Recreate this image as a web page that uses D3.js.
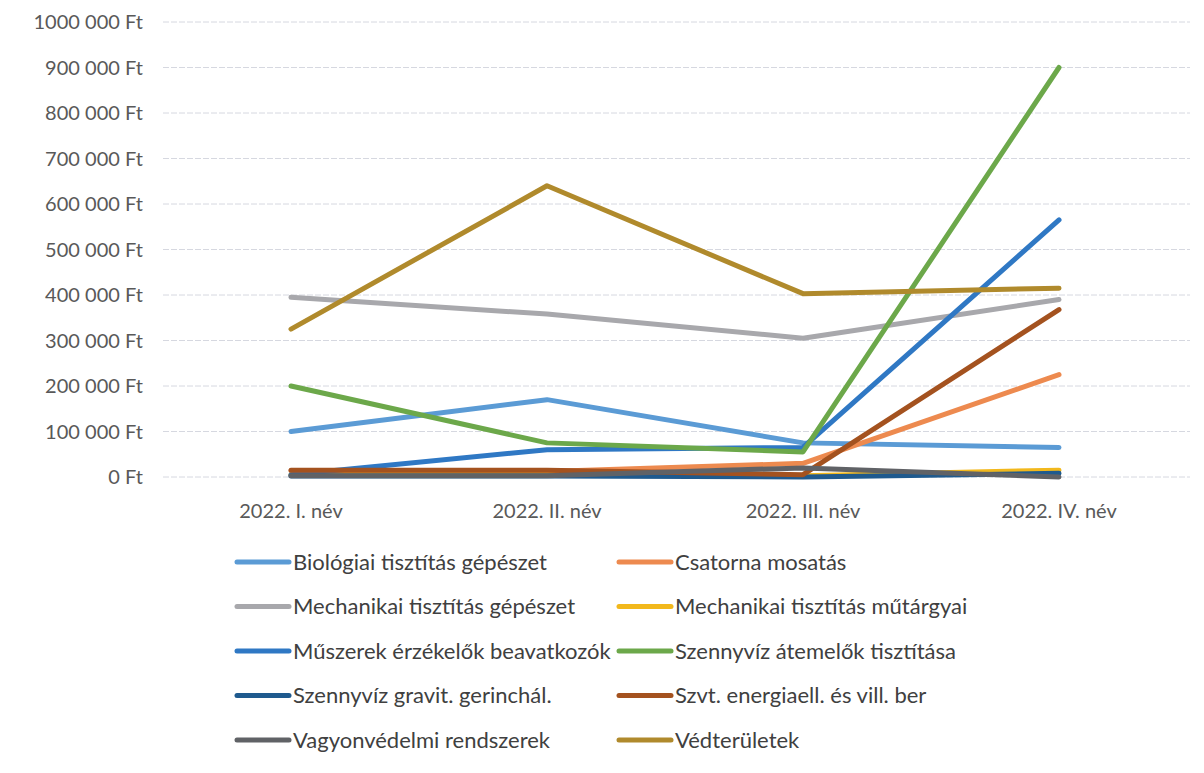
<!DOCTYPE html>
<html>
<head>
<meta charset="utf-8">
<script src="https://cdn.jsdelivr.net/npm/d3@7"></script>
<style>
  body { margin: 0; background: #fff; }
  text { font-family: Lato, "Open Sans", sans-serif; }
</style>
</head>
<body>
<svg id="chart" width="1204" height="773"></svg>
<script>
// periods on the x axis
let periods = ["2022. I. név", "2022. II. név", "2022. III. név", "2022. IV. név"];
let yTicks = [0, 100000, 200000, 300000, 400000, 500000, 600000, 700000, 800000, 900000, 1000000];
let yTickLabels = ["0 Ft", "100 000 Ft", "200 000 Ft", "300 000 Ft", "400 000 Ft", "500 000 Ft",
                   "600 000 Ft", "700 000 Ft", "800 000 Ft", "900 000 Ft", "1000 000 Ft"];

let seriesNames = ["Biológiai tisztítás gépészet", "Csatorna mosatás",
                   "Mechanikai tisztítás gépészet", "Mechanikai tisztítás műtárgyai",
                   "Műszerek érzékelők beavatkozók", "Szennyvíz átemelők tisztítása",
                   "Szennyvíz gravit. gerinchál.", "Szvt. energiaell. és vill. ber",
                   "Vagyonvédelmi rendszerek", "Védterületek"];
let seriesColors = ["#5b9bd5", "#ed8a4f", "#a8a8ac", "#f2b81c", "#2f78c4",
                    "#6ca84a", "#1f5a8e", "#a4521f", "#606266", "#b08a2c"];

let biologiai  = [100000, 170000, 75000, 65000];
let csatorna   = [14000, 12000, 30000, 225000];
let mechGep    = [395000, 358000, 305000, 390000];
let mechMutarg = [5000, 5000, 3000, 15000];
let muszerek   = [5000, 60000, 65000, 565000];
let atemelok   = [200000, 75000, 55000, 900000];
let gravit     = [2000, 2000, 0, 8000];
let energia    = [15000, 15000, 5000, 368000];
let vagyon     = [3000, 3000, 20000, 0];
let vedter     = [325000, 640000, 403000, 415000];

let allValues = [biologiai, csatorna, mechGep, mechMutarg, muszerek,
                 atemelok, gravit, energia, vagyon, vedter];

let series = seriesNames.map((name, i) => ({name: name, color: seriesColors[i], values: allValues[i]}));

let svg = d3.select("#chart");

let x = d3.scaleBand(periods, [163, 1187]);
let y = d3.scaleLinear([0, 1000000], [477, 22]);

// grid
svg.append("g")
    .selectAll("line")
    .data(yTicks)
    .join("line")
    .attr("x1", 163)
    .attr("x2", 1190)
    .attr("y1", d => y(d))
    .attr("y2", d => y(d))
    .attr("stroke", "#d6d8e0")
    .attr("stroke-width", 1)
    .attr("stroke-dasharray", "6 2");

// y labels
svg.append("g")
    .selectAll("text")
    .data(yTicks)
    .join("text")
    .attr("x", 143)
    .attr("y", d => y(d))
    .attr("dy", "0.35em")
    .attr("text-anchor", "end")
    .attr("font-size", 20)
    .attr("fill", "#595959")
    .text((d, i) => yTickLabels[i]);

// x labels
svg.append("g")
    .selectAll("text")
    .data(periods)
    .join("text")
    .attr("x", d => x(d) + x.bandwidth() / 2)
    .attr("y", 511)
    .attr("dy", "0.35em")
    .attr("text-anchor", "middle")
    .attr("font-size", 20)
    .attr("fill", "#595959")
    .text(d => d);

let line = d3.line()
    .x((d, i) => x(periods[i]) + x.bandwidth() / 2)
    .y(d => y(d));

svg.append("g")
    .selectAll("path")
    .data(series)
    .join("path")
    .attr("fill", "none")
    .attr("stroke", d => d.color)
    .attr("stroke-width", 5)
    .attr("stroke-linecap", "round")
    .attr("stroke-linejoin", "round")
    .attr("d", d => line(d.values));

// legend, two columns
let legend = svg.append("g")
    .selectAll("g")
    .data(series)
    .join("g")
    .attr("transform", (d, i) => `translate(${i % 2 === 0 ? 237 : 619},${562 + Math.floor(i / 2) * 44.5})`);

legend.append("line")
    .attr("x1", 0)
    .attr("x2", 52)
    .attr("stroke", d => d.color)
    .attr("stroke-width", 5)
    .attr("stroke-linecap", "round");

legend.append("text")
    .attr("x", 56)
    .attr("dy", "0.35em")
    .attr("font-size", 22)
    .attr("fill", "#404040")
    .text(d => d.name);
</script>
</body>
</html>
